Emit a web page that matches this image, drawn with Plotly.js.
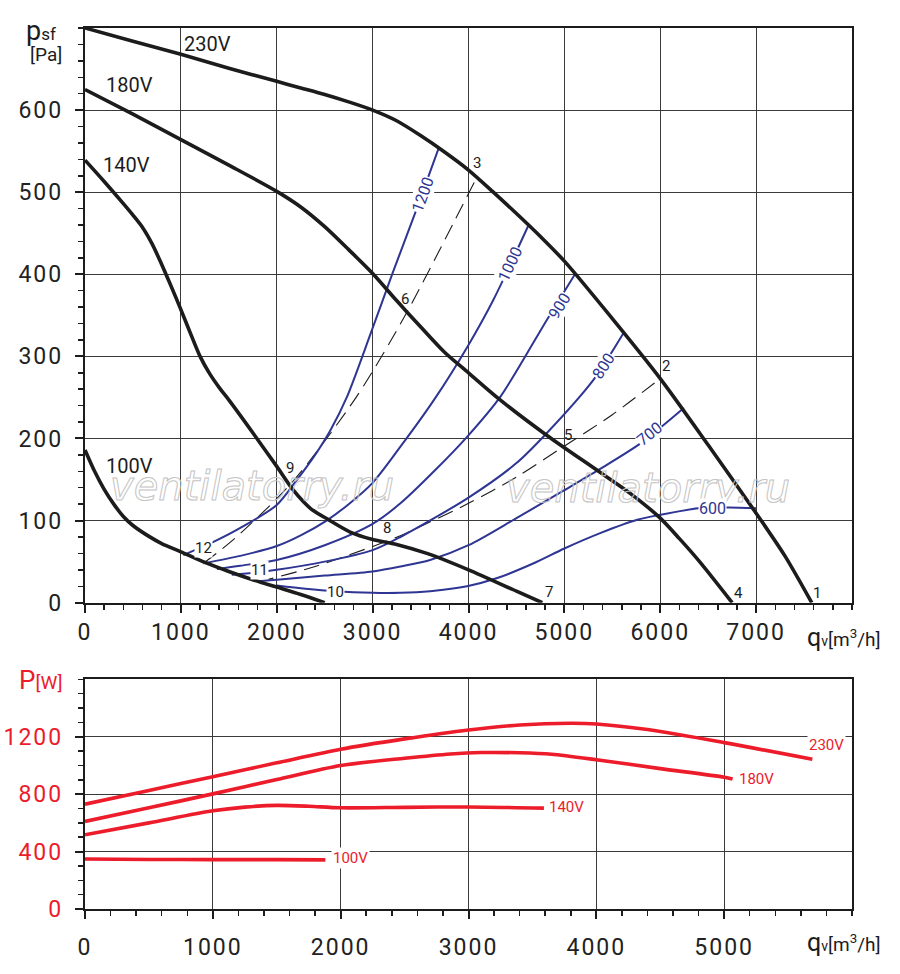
<!DOCTYPE html>
<html><head><meta charset="utf-8">
<script src="https://cdn.plot.ly/plotly-3.0.1.min.js"></script>
<style>
body{margin:0;background:#fff}
.xtick text, .ytick text, .x2tick text, .y2tick text {letter-spacing: 2px;}
</style>
</head><body><div id="chart" style="width:900px;height:974px"></div>
<script>
// ---------- Pressure characteristics  (q [m3/h], p [Pa]) ----------
const q230 = [0,500,1000,1500,2000,2250,2500,2750,3000,3250,3500,3750,4000,4250,4500,4750,5000,5500,6000,6500,7000,7300,7580];
const p230 = [700,684,668,651,635,627,619,610,600,587,569,549,527,501,474,446,416,346,273,192,109,57,0];
const q180 = [0,500,1000,1500,2000,2250,2500,2750,3000,3250,3500,3750,4000,4330,4815,5357,5700,6000,6200,6410,6750];
const p180 = [625,595,564,533,501,482,458,430,401,368,336,305,280,247,204,160,132,103,78,50,0];
const q140 = [0,200,400,500,600,700,800,900,1000,1100,1200,1300,1400,1500,1750,2000,2173,2350,2540,2766,3000,3250,3566,4000,4500,4770];
const p140 = [539,513,486,472,457,437,412,385,357,328,300,279,262,247,207,166,137,115,101,86,77,71,60,40,14,0];
const q100 = [0,100,200,300,400,500,650,800,1000,1250,1500,1750,2000,2250,2500];
const p100 = [186,160,138,120,105,94,82,72,62,49,38,28,19,10,0];

// ---------- Iso-lines (blue) ----------
const qL1200 = [1026,1340,1620,2000,2200,2400,2560,2730,2980,3210,3445,3690];
const pL1200 = [58,74,91,119,148,180,210,250,328,402,475,554];
const qL1000 = [1235,1620,2000,2250,2520,2750,3000,3290,3640,4000,4260,4627];
const pL1000 = [48,57,69,82,100,120,146,190,247,314,369,460];
const qL900 = [1375,1620,2000,2500,3000,3290,3640,3985,4333,4820,5115];
const pL900 = [41,45,52,70,96,121,160,202,251,345,401];
const qL800 = [1531,1800,2000,2500,3000,3290,4000,4500,4820,5307,5620];
const pL800 = [34,37,40,50,64,80,128,170,207,272,329];
const qL700 = [1800,2000,2500,3000,3290,3600,4000,4500,5000,5360,5794,6246];
const pL700 = [26,28,33,38,44,52,70,103,137,162,194,237];
const qL600 = [2000,2300,2600,3000,3290,3600,3985,4300,4680,5000,5380,5760,6000,6400,6715,7000];
const pL600 = [21,17,14,12,12,14,20,30,48,66,85,101,107,115,116,115];
const isoNames = ['1200','1000','900','800','700','600'];

// ---------- System curves (dashed) ----------
const qSysA = [1235,1570,2163,2833,3340,3841,4060];
const pSysA = [48,79,147,251,350,462,512];
const qSysB = [1800,2400,3150,3355,4000,4500,4990,5500,6000];
const pSysB = [25,44,75,85,121,153,190,229,273];

// ---------- Power curves (q [m3/h], P [W]) ----------
const qP230 = [0,500,1000,1500,2000,2500,3000,3400,3800,4000,4400,5000,5690];
const wP230 = [730,826,922,1018,1113,1185,1247,1282,1294,1289,1250,1159,1043];
const qP180 = [0,500,1000,1500,2000,2500,2860,3100,3400,3650,4000,4500,5000,5066];
const wP180 = [610,705,802,902,999,1050,1080,1090,1088,1078,1040,978,918,905];
const qP140 = [0,500,1000,1250,1500,1750,2000,2500,3000,3590];
const wP140 = [517,600,684,710,722,716,705,708,711,703];
const qP100 = [0,500,1000,1500,1880];
const wP100 = [348,345,344,344,342];

// ---------- tick labels ----------
const xTicksTop = [0,1000,2000,3000,4000,5000,6000,7000];
const yTicksTop = [0,100,200,300,400,500,600];
const xTicksBot = [0,1000,2000,3000,4000,5000];
const yTicksBot = [0,400,800,1200];

const FONT = 'Roboto, "DejaVu Sans", sans-serif';
const BLACK = '#1c1c1c', BLUE = '#2e3592', RED = '#ec1c2a', GRID = '#3a3a3a';

const traces = [];
function line(x, y, color, width, axis, dash) {
  traces.push({x: x, y: y, mode: 'lines', type: 'scatter',
    xaxis: axis ? 'x2' : 'x', yaxis: axis ? 'y2' : 'y',
    line: {color: color, width: width, shape: 'spline', smoothing: 0.8, dash: dash || 'solid'},
    hoverinfo: 'skip'});
}
line(qSysA, pSysA, BLACK, 1.1, false, '16px,8px');
line(qSysB, pSysB, BLACK, 1.1, false, '16px,8px');
[[qL1200,pL1200],[qL1000,pL1000],[qL900,pL900],[qL800,pL800],[qL700,pL700],[qL600,pL600]]
  .forEach(a => line(a[0], a[1], BLUE, 2, false));
[[q230,p230],[q180,p180],[q140,p140],[q100,p100]].forEach(a => line(a[0], a[1], BLACK, 3.6, false));
[[qP230,wP230],[qP180,wP180],[qP140,wP140],[qP100,wP100]].forEach(a => line(a[0], a[1], RED, 3.6, true));

function axisBase(range, tickvals, minorDtick, domain, anchor, tickColor) {
  return {
    range: range, domain: domain, anchor: anchor, tickmode: 'array', tickvals: tickvals,
    showgrid: true, gridcolor: GRID, gridwidth: 1.2, zeroline: false,
    showline: true, linecolor: BLACK, linewidth: 2.2, mirror: true,
    ticks: 'outside', ticklen: 8, tickwidth: 2, tickcolor: BLACK,
    minor: {tickmode: 'linear', tick0: 0, dtick: minorDtick, ticks: 'outside', ticklen: 5, tickwidth: 1.5, tickcolor: BLACK, showgrid: false},
    tickfont: {family: FONT, size: 23, color: tickColor || '#222'},
    fixedrange: true
  };
}

const ann = [];
function txt(x, y, text, opt) {
  ann.push(Object.assign({x: x, y: y, text: text, showarrow: false, xref: 'x', yref: 'y',
    font: {family: FONT, size: 15, color: BLACK}, xanchor: 'center', yanchor: 'middle'}, opt || {}));
}
// watermark (outlined after drawing)
txt(1742, 142, 'ventilatorry.ru', {font: {family: '"DejaVu Sans", sans-serif', size: 40, color: '#cfcfcf', style: 'italic'}});
txt(5872, 140, 'ventilatorry.ru', {font: {family: '"DejaVu Sans", sans-serif', size: 40, color: '#cfcfcf', style: 'italic'}});
// voltage labels (top)
const vFont = {family: FONT, size: 20, color: BLACK};
txt(1278, 680, '230V', {font: vFont});
txt(464, 631, '180V', {font: vFont});
txt(433, 533, '140V', {font: vFont});
txt(464, 166, '100V', {font: vFont});
// iso-line labels
const isoLab = [[3525,497,-70],[4438,413,-65],[4944,361,-58],[5403,288,-57],[5893,206,-39],[6545,115,0]];
isoLab.forEach((p, i) => txt(p[0], p[1], isoNames[i], {textangle: p[2], bgcolor: '#fff', borderpad: 0,
  font: {family: FONT, size: 16, color: BLUE}}));
// operating point numbers
const ptLab = [[7632,12,'1'],[6059,288,'2'],[4085,535,'3'],[6814,12,'4'],[5035,204,'5'],[3338,370,'6'],
  [4840,13,'7'],[3147,91,'8'],[2138,164,'9']];
ptLab.forEach(p => txt(p[0], p[1], p[2]));
txt(2615, 13, '10', {bgcolor: '#fff', borderpad: 0});
txt(1825, 40, '11', {bgcolor: '#fff', borderpad: 0});
txt(1234, 66, '12', {bgcolor: '#fff', borderpad: 0});
// power labels
const pw = {xref: 'x2', yref: 'y2', bgcolor: '#fff', borderpad: 1, font: {family: FONT, size: 15, color: RED}};
txt(5800, 1143, '230V', pw);
txt(5252, 906, '180V', pw);
txt(3769, 712, '140V', pw);
txt(2079, 353, '100V', pw);
// axis titles
const P = {xref: 'paper', yref: 'paper'};
txt(-0.0795, 0.9966, "p<span style='font-size:17px'>sf</span>", Object.assign({xanchor: 'left', font: {family: FONT, size: 27, color: BLACK}}, P));
txt(-0.0502, 0.970, '[Pa]', Object.assign({font: {family: FONT, size: 19, color: BLACK}}, P));
const qText = "q<span style='font-size:14px'>v</span><span style='font-size:19px'>[m<sup>3</sup>/h]</span>";
txt(0.9896, 0.3087, qText, Object.assign({font: {family: FONT, size: 25, color: BLACK}}, P));
txt(0.9896, -0.0375, qText, Object.assign({font: {family: FONT, size: 25, color: BLACK}}, P));
txt(-0.0574, 0.260, "P<span style='font-size:19px'>[W]</span>", Object.assign({font: {family: FONT, size: 26, color: RED}}, P));

const layout = {
  width: 900, height: 974, margin: {l: 85, r: 48, t: 28, b: 65},
  paper_bgcolor: '#fff', plot_bgcolor: '#fff', showlegend: false, hovermode: false,
  xaxis: axisBase([0, 8000], xTicksTop, 200, [0, 1], 'y'),
  yaxis: axisBase([0, 700], yTicksTop, 20, [0.3477, 1], 'x'),
  xaxis2: axisBase([0, 6000], xTicksBot, 200, [0, 1], 'y2'),
  yaxis2: axisBase([0, 1600], yTicksBot, 100, [0, 0.2607], 'x2', RED),
  annotations: ann
};
layout.yaxis.ticklabelstandoff = 7;
layout.yaxis2.ticklabelstandoff = 7;
layout.xaxis2.ticklabelstandoff = 8;

function outlineWatermark() {
  document.querySelectorAll('#chart text').forEach(t => {
    if ((t.textContent || '').indexOf('ventilatorry') >= 0) {
      t.style.setProperty('fill', 'none', 'important');
      t.style.setProperty('stroke', '#c4c4c4');
      t.style.setProperty('stroke-width', '1px');
    }
  });
}
const pr = Plotly.newPlot('chart', traces, layout, {staticPlot: true});
outlineWatermark();
pr.then(outlineWatermark);
</script></body></html>
